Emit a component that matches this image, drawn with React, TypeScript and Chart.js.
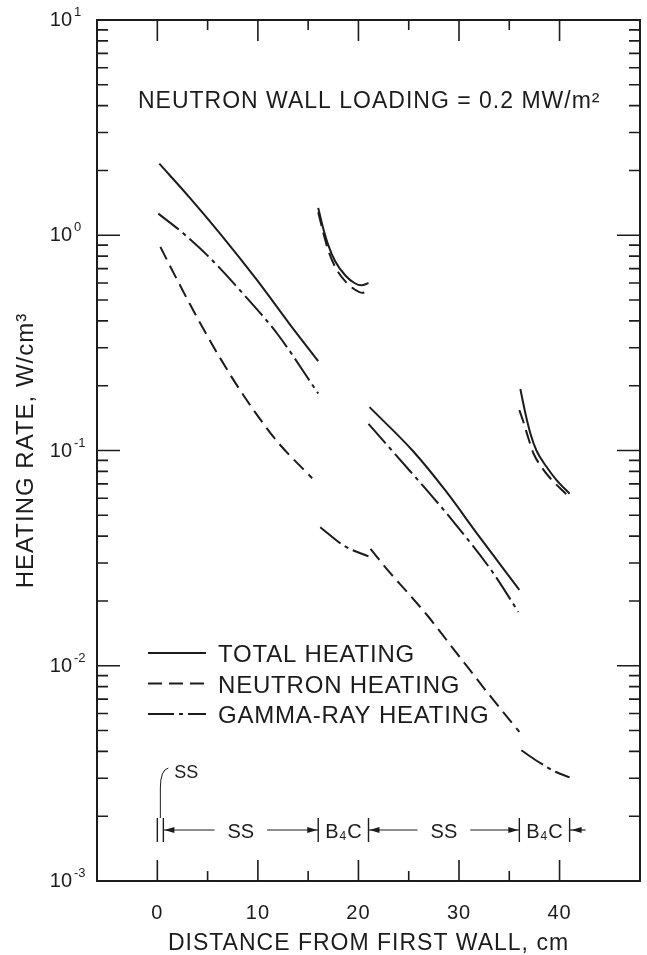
import { useEffect, useRef } from 'react';
import { Chart, registerables } from 'chart.js';

Chart.register(...registerables);

const FONT = '"Liberation Sans", Arial, Helvetica, sans-serif';
const INK = '#1c1c1c';

// Distance from first wall (cm) per material layer, with heating rate (W/cm^3)

// Total heating
const TOTAL_SS1_X = [0.2, 3.3, 6.3, 9.9, 13.1, 16.0];
const TOTAL_SS1_Y = [2.15, 1.48, 1.01, 0.62, 0.39, 0.26];
const TOTAL_B4C1_X = [16.0, 16.4, 17.0, 17.7, 18.7, 19.6, 20.3, 21.0];
const TOTAL_B4C1_Y = [1.34, 1.12, 0.9, 0.755, 0.65, 0.6, 0.585, 0.6];
const TOTAL_SS2_X = [21.1, 25.4, 28.7, 32.0, 36.0];
const TOTAL_SS2_Y = [0.159, 0.0997, 0.0647, 0.0399, 0.0225];
const TOTAL_B4C2_X = [36.1, 36.6, 37.1, 37.7, 38.7, 39.7, 41.0];
const TOTAL_B4C2_Y = [0.193, 0.149, 0.12, 0.1, 0.084, 0.0728, 0.063];

// Neutron heating
const NEUTRON_SS1_X = [0.3, 2.0, 4.0, 6.0, 8.0, 10.0, 12.0, 15.4];
const NEUTRON_SS1_Y = [0.883, 0.617, 0.411, 0.281, 0.198, 0.1445, 0.109, 0.0743];
const NEUTRON_B4C1_X = [16.0, 16.5, 17.0, 17.7, 18.7, 19.5, 20.4, 21.0];
const NEUTRON_B4C1_Y = [1.28, 1.03, 0.85, 0.71, 0.61, 0.565, 0.54, 0.555];
const NEUTRON_SS2_X = [21.2, 23.0, 25.0, 27.0, 29.0, 31.0, 33.0, 36.0];
const NEUTRON_SS2_Y = [0.0349, 0.0275, 0.0216, 0.0168, 0.01274, 0.00966, 0.00733, 0.00493];
const NEUTRON_B4C2_X = [36.0, 36.4, 36.9, 37.4, 38.3, 39.1, 40.8];
const NEUTRON_B4C2_Y = [0.154, 0.136, 0.114, 0.0971, 0.0826, 0.0741, 0.0619];

// Gamma-ray heating
const GAMMA_SS1_X = [0.1, 2.6, 5.0, 8.5, 12.0, 16.0];
const GAMMA_SS1_Y = [1.26, 1.019, 0.804, 0.537, 0.345, 0.184];
const GAMMA_B4C1_X = [16.2, 18.6, 21.0];
const GAMMA_B4C1_Y = [0.044, 0.036, 0.0322];
const GAMMA_SS2_X = [21.0, 25.1, 27.1, 29.4, 33.3, 35.9];
const GAMMA_SS2_Y = [0.133, 0.0805, 0.063, 0.047, 0.0274, 0.0178];
const GAMMA_B4C2_X = [36.2, 37.8, 39.7, 41.0];
const GAMMA_B4C2_Y = [0.00405, 0.0036, 0.0032, 0.00303];

// Axes
const X_MIN = -6;
const X_MAX = 48;
const Y_MIN = 1e-3;
const Y_MAX = 10;
const X_MAJOR = [0, 10, 20, 30, 40];
const X_MINOR = [5, 15, 25, 35];
const Y_EXPONENTS = [-3, -2, -1, 0, 1];
const Y_MINOR_MULTIPLIERS = [2, 3, 4, 5, 6, 7, 8, 9];

// Blanket layers along the bottom of the plot
const LAYER_EDGES = [0, 0.6, 16, 21, 36, 41];
const LAYER_NAMES = ['SS', 'SS', 'B4C', 'SS', 'B4C'];

const SERIES_LABELS = ['TOTAL HEATING', 'NEUTRON HEATING', 'GAMMA-RAY HEATING'];
const WALL_LOADING_NOTE = 'NEUTRON WALL LOADING = 0.2 MW/m\u00B2';

function joinSegments(xs: number[][], ys: number[][]) {
  const pts: { x: number; y: number | null }[] = [];
  xs.forEach((seg, i) => {
    if (i > 0) pts.push({ x: seg[0], y: null });
    seg.forEach((x, j) => pts.push({ x, y: ys[i][j] }));
  });
  return pts;
}

function arrowHead(ctx: CanvasRenderingContext2D, tipX: number, y: number, dir: number) {
  ctx.beginPath();
  ctx.moveTo(tipX, y);
  ctx.lineTo(tipX - dir * 10, y - 3);
  ctx.lineTo(tipX - dir * 10, y + 3);
  ctx.closePath();
  ctx.fill();
}

const frameAndLabels = {
  id: 'frameAndLabels',
  beforeDraw(chart: any) {
    chart.ctx.letterSpacing = '1px';
  },
  afterDraw(chart: any) {
    const { ctx, chartArea: a, scales } = chart;
    const xs = scales.x;
    const ys = scales.y;
    ctx.save();
    ctx.letterSpacing = '0px';
    ctx.strokeStyle = INK;
    ctx.fillStyle = INK;

    // frame
    ctx.lineWidth = 2;
    ctx.strokeRect(a.left, a.top, a.right - a.left, a.bottom - a.top);

    // inward ticks on all four sides
    ctx.lineWidth = 1.6;
    ctx.beginPath();
    const xTick = (v: number, len: number) => {
      const p = xs.getPixelForValue(v);
      ctx.moveTo(p, a.bottom);
      ctx.lineTo(p, a.bottom - len);
      ctx.moveTo(p, a.top);
      ctx.lineTo(p, a.top + len);
    };
    const yTick = (v: number, len: number) => {
      const p = ys.getPixelForValue(v);
      ctx.moveTo(a.left, p);
      ctx.lineTo(a.left + len, p);
      ctx.moveTo(a.right, p);
      ctx.lineTo(a.right - len, p);
    };
    X_MAJOR.forEach((v) => xTick(v, 21));
    X_MINOR.forEach((v) => xTick(v, 10));
    Y_EXPONENTS.forEach((e) => yTick(Math.pow(10, e), 23));
    Y_EXPONENTS.slice(0, -1).forEach((e) =>
      Y_MINOR_MULTIPLIERS.forEach((m) => yTick(m * Math.pow(10, e), 11))
    );
    ctx.stroke();

    // y tick labels as powers of ten
    Y_EXPONENTS.forEach((e) => {
      const p = ys.getPixelForValue(Math.pow(10, e));
      ctx.font = `20px ${FONT}`;
      ctx.textAlign = 'right';
      ctx.textBaseline = 'alphabetic';
      ctx.fillText('10', a.left - 25, p + 6);
      ctx.font = `13px ${FONT}`;
      ctx.textAlign = 'left';
      ctx.fillText(String(e), a.left - 23, p - 4);
    });

    // wall loading note
    ctx.font = `23px ${FONT}`;
    ctx.letterSpacing = '1px';
    ctx.textAlign = 'left';
    ctx.fillText(WALL_LOADING_NOTE, a.left + 41, a.top + 88);

    // legend
    ctx.font = `24px ${FONT}`;
    ctx.letterSpacing = '0.8px';
    chart.data.datasets.forEach((ds: any, i: number) => {
      const base = a.bottom - 219 + i * 30.5;
      ctx.save();
      ctx.lineWidth = ds.borderWidth;
      ctx.setLineDash(ds.borderDash || []);
      ctx.beginPath();
      ctx.moveTo(a.left + 51, base - 9);
      ctx.lineTo(a.left + 109, base - 9);
      ctx.stroke();
      ctx.restore();
      ctx.fillText(ds.label, a.left + 121, base);
    });

    // layer markers
    ctx.letterSpacing = '0px';
    const rowY = a.bottom - 51;
    ctx.lineWidth = 1.4;
    ctx.beginPath();
    LAYER_EDGES.forEach((edge) => {
      const p = xs.getPixelForValue(edge);
      ctx.moveTo(p, rowY - 12);
      ctx.lineTo(p, rowY + 12);
    });
    ctx.stroke();

    const drawLayerName = (name: string, cx: number) => {
      if (name === 'B4C') {
        ctx.font = `20px ${FONT}`;
        const wB = ctx.measureText('B').width;
        const wC = ctx.measureText('C').width;
        ctx.font = `12px ${FONT}`;
        const w4 = ctx.measureText('4').width;
        const total = wB + w4 + wC + 2;
        let x = cx - total / 2;
        ctx.textAlign = 'left';
        ctx.font = `20px ${FONT}`;
        ctx.fillText('B', x, rowY + 8);
        x += wB + 1;
        ctx.font = `12px ${FONT}`;
        ctx.fillText('4', x, rowY + 10);
        x += w4 + 1;
        ctx.font = `20px ${FONT}`;
        ctx.fillText('C', x, rowY + 8);
        return total;
      }
      ctx.font = `20px ${FONT}`;
      ctx.textAlign = 'center';
      ctx.fillText(name, cx, rowY + 8);
      return ctx.measureText(name).width;
    };

    LAYER_NAMES.forEach((name, i) => {
      const x0 = xs.getPixelForValue(LAYER_EDGES[i]);
      const x1 = xs.getPixelForValue(LAYER_EDGES[i + 1]);
      if (i === 0) {
        // thin first wall, labelled with a leader
        const bx = (x0 + x1) / 2;
        ctx.beginPath();
        ctx.lineWidth = 1;
        ctx.moveTo(bx, rowY - 12);
        ctx.lineTo(bx, rowY - 42);
        ctx.quadraticCurveTo(bx, rowY - 60, bx + 8, rowY - 62);
        ctx.stroke();
        ctx.font = `18px ${FONT}`;
        ctx.textAlign = 'left';
        ctx.fillText(name, bx + 14, rowY - 52);
        return;
      }
      const cx = (x0 + x1) / 2;
      const w = drawLayerName(name, cx);
      if (name === 'SS') {
        ctx.lineWidth = 1.2;
        ctx.beginPath();
        ctx.moveTo(x0, rowY);
        ctx.lineTo(cx - w / 2 - 13, rowY);
        ctx.moveTo(cx + w / 2 + 13, rowY);
        ctx.lineTo(x1, rowY);
        ctx.stroke();
        arrowHead(ctx, x0 + 1, rowY, -1);
        arrowHead(ctx, x1 - 1, rowY, 1);
      }
    });
    // next layer continues beyond the last edge
    const last = xs.getPixelForValue(LAYER_EDGES[LAYER_EDGES.length - 1]);
    ctx.lineWidth = 1.2;
    ctx.beginPath();
    ctx.moveTo(last, rowY);
    ctx.lineTo(last + 16, rowY);
    ctx.stroke();
    arrowHead(ctx, last + 2, rowY, -1);

    ctx.restore();
  },
};

export default function App() {
  const ref = useRef<HTMLCanvasElement>(null);

  useEffect(() => {
    const canvas = ref.current;
    if (!canvas) return;
    const common = {
      borderColor: INK,
      borderWidth: 2,
      pointRadius: 0,
      fill: false,
      cubicInterpolationMode: 'monotone' as const,
      spanGaps: false,
    };
    const chart = new Chart(canvas, {
      type: 'line',
      data: {
        datasets: [
          {
            ...common,
            label: SERIES_LABELS[0],
            data: joinSegments(
              [TOTAL_SS1_X, TOTAL_B4C1_X, TOTAL_SS2_X, TOTAL_B4C2_X],
              [TOTAL_SS1_Y, TOTAL_B4C1_Y, TOTAL_SS2_Y, TOTAL_B4C2_Y]
            ),
            borderDash: [],
          },
          {
            ...common,
            label: SERIES_LABELS[1],
            data: joinSegments(
              [NEUTRON_SS1_X, NEUTRON_B4C1_X, NEUTRON_SS2_X, NEUTRON_B4C2_X],
              [NEUTRON_SS1_Y, NEUTRON_B4C1_Y, NEUTRON_SS2_Y, NEUTRON_B4C2_Y]
            ),
            borderDash: [14, 7],
          },
          {
            ...common,
            label: SERIES_LABELS[2],
            data: joinSegments(
              [GAMMA_SS1_X, GAMMA_B4C1_X, GAMMA_SS2_X, GAMMA_B4C2_X],
              [GAMMA_SS1_Y, GAMMA_B4C1_Y, GAMMA_SS2_Y, GAMMA_B4C2_Y]
            ),
            borderDash: [26, 5, 4, 5],
          },
        ],
      },
      options: {
        responsive: false,
        animation: false,
        parsing: true,
        layout: { padding: { top: 20, right: 7, left: 0, bottom: 0 } },
        plugins: {
          legend: { display: false },
          tooltip: { enabled: false },
        },
        scales: {
          x: {
            type: 'linear',
            min: X_MIN,
            max: X_MAX,
            grid: { display: false },
            border: { display: false },
            afterBuildTicks: (axis: any) => {
              axis.ticks = X_MAJOR.map((v) => ({ value: v }));
            },
            afterFit: (axis: any) => {
              axis.height = 74;
            },
            ticks: {
              color: INK,
              font: { family: FONT, size: 20, lineHeight: 1 },
              padding: 14,
              maxRotation: 0,
              autoSkip: false,
            },
            title: {
              display: true,
              text: 'DISTANCE FROM FIRST WALL, cm',
              color: INK,
              font: { family: FONT, size: 23, lineHeight: 1 },
              padding: { top: 0, bottom: 0 },
            },
          },
          y: {
            type: 'logarithmic',
            min: Y_MIN,
            max: Y_MAX,
            grid: { display: false },
            border: { display: false },
            ticks: { display: false },
            afterFit: (axis: any) => {
              axis.width = 97;
            },
            title: {
              display: true,
              text: 'HEATING RATE, W/cm\u00B3',
              color: INK,
              font: { family: FONT, size: 24, lineHeight: 1 },
              padding: { top: 14, bottom: 0 },
            },
          },
        },
      },
      plugins: [frameAndLabels],
    } as any);
    return () => chart.destroy();
  }, []);

  return (
    <div
      style={{
        position: 'fixed',
        left: 0,
        top: 0,
        width: 647,
        height: 955,
        background: '#ffffff',
      }}
    >
      <canvas ref={ref} width={647} height={955} style={{ display: 'block', width: 647, height: 955 }} />
    </div>
  );
}
